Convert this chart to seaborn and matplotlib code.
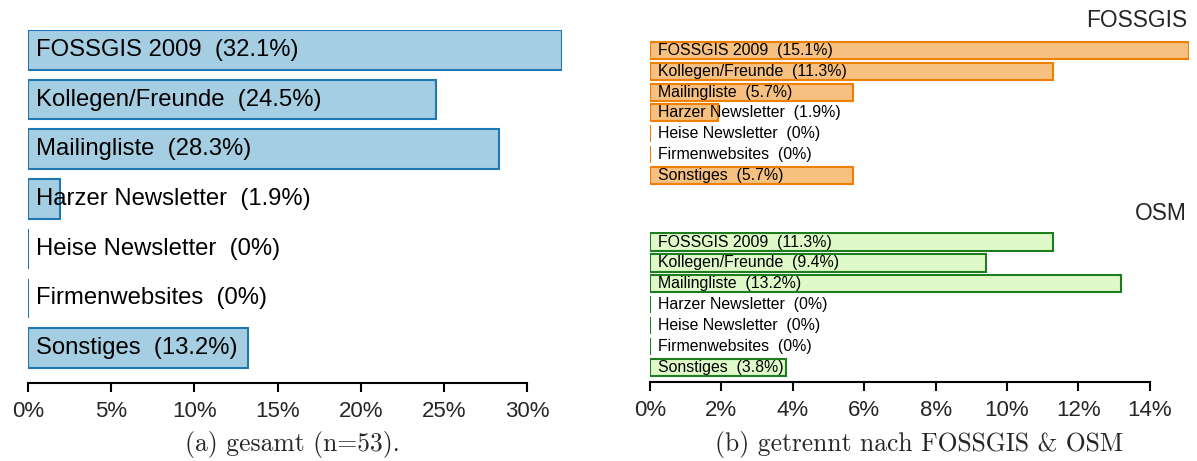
import matplotlib
matplotlib.use("Agg")
import matplotlib.pyplot as plt
import seaborn as sns
import pandas as pd

categories = ["FOSSGIS 2009", "Kollegen/Freunde", "Mailingliste", "Harzer Newsletter",
              "Heise Newsletter", "Firmenwebsites", "Sonstiges"]
gesamt = [32.1, 24.5, 28.3, 1.9, 0, 0, 13.2]
fossgis = [15.1, 11.3, 5.7, 1.9, 0, 0, 5.7]
osm = [11.3, 9.4, 13.2, 0, 0, 0, 3.8]
left_ticks = [0, 5, 10, 15, 20, 25, 30]
right_ticks = [0, 2, 4, 6, 8, 10, 12, 14]

sns.set_theme(style="white")
plt.rcParams['font.family'] = ['Liberation Sans', 'DejaVu Sans']

W, H = 1197, 461
fig = plt.figure(figsize=(W / 100, H / 100), dpi=100)

def ax_at(x0, x1, ytop, ybot):
    return fig.add_axes([x0 / W, (H - ybot) / H, (x1 - x0) / W, (ybot - ytop) / H])

def draw(ax, vals, fill, edge, fs, offset_pt, ylim, ticks, xmax, show_axis, width):
    df = pd.DataFrame({"cat": categories, "val": vals})
    sns.barplot(data=df, y="cat", x="val", orient="h", color=fill, edgecolor=edge,
                linewidth=1.5, saturation=1, width=width, ax=ax)
    ax.set_xlim(0, xmax)
    ax.set_ylim(*ylim)
    for i, (c, v) in enumerate(zip(categories, vals)):
        ax.annotate(f"{c}  ({v:g}%)", xy=(0, i), xytext=(offset_pt, 0),
                    textcoords="offset points", va="center", ha="left",
                    fontsize=fs, color="black")
    ax.set_ylabel("")
    ax.set_xlabel("")
    ax.set_yticks([])
    for s in ["top", "right", "left"]:
        ax.spines[s].set_visible(False)
    if show_axis:
        ax.spines["bottom"].set_bounds(ticks[0], ticks[-1])
        ax.spines["bottom"].set_color("black")
        ax.spines["bottom"].set_linewidth(1.5)
        ax.set_xticks(ticks)
        ax.set_xticklabels([f"{t}%" for t in ticks], fontsize=16)
        ax.tick_params(axis="x", direction="out", length=6.5, width=1.5,
                       color="black", bottom=True, pad=6.5)
    else:
        ax.spines["bottom"].set_visible(False)
        ax.set_xticks([])
    ax.patch.set_alpha(0)

# left panel
axL = ax_at(28, 562, 30, 383)
draw(axL, gesamt, "#a6cee3", "#1f78b4", 17.2, 6.1, (6.7, -0.4), left_ticks, 32.1, True, 0.8)

# right top (FOSSGIS)
axT = ax_at(650, 1189, 40.1, 185.7)
draw(axT, fossgis, "#f5c080", "#f08000", 11.4, 5.8, (6.5, -0.5), right_ticks, 15.1, False, 0.82)

# right bottom (OSM)
axB = ax_at(650, 1189, 231.6, 382)
draw(axB, osm, "#dffac8", "#1e7d1e", 11.4, 5.8, (6.69, -0.5), right_ticks, 15.1, True, 0.82)

fig.text(1187 / W, 1 - 20.5 / H, "FOSSGIS", ha="right", va="center", fontsize=16.4)
fig.text(1187 / W, 1 - 214 / H, "OSM", ha="right", va="center", fontsize=16.4)

fig.text(292 / W, 1 - 444 / H, "(a) gesamt (n=53).", ha="center",
         va="center", fontsize=18.4, family="cmr10")
fig.text(919 / W, 1 - 444 / H, "(b) getrennt nach FOSSGIS & OSM",
         ha="center", va="center", fontsize=18.4, family="cmr10")

fig.savefig("out.png", dpi=100)
